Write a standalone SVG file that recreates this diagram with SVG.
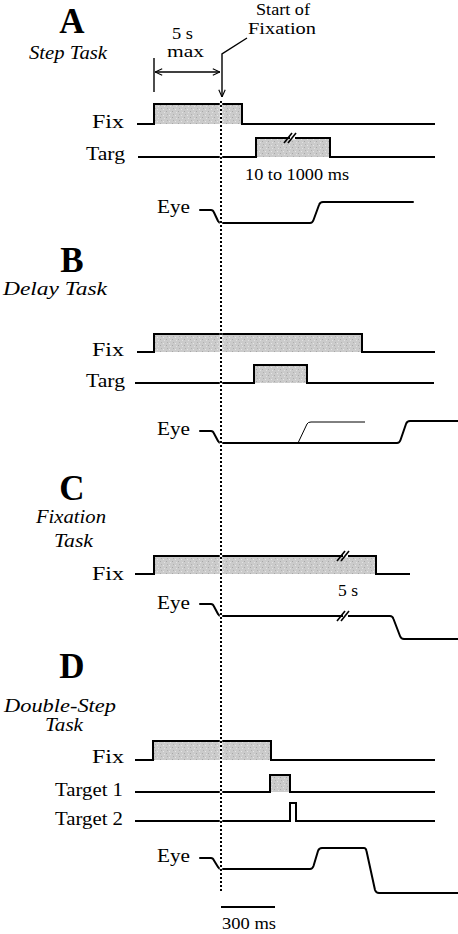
<svg xmlns="http://www.w3.org/2000/svg" width="458" height="934" viewBox="0 0 458 934">
  <style>
    text { font-family: "Liberation Serif", "Times New Roman", serif; fill: #000; }
    .big { font-size: 35px; font-weight: bold; text-anchor: middle; }
    .ttl { font-size: 19px; font-style: italic; }
    .lbl { font-size: 19px; }
    .note { font-size: 17px; }
    .sig { fill: none; stroke: #000; stroke-width: 2; stroke-linejoin: miter; }
    .eye { fill: none; stroke: #000; stroke-width: 2; stroke-linejoin: round; stroke-linecap: round; }
    .thin { fill: none; stroke: #000; stroke-width: 1; stroke-linejoin: round; }
    .shade { fill: url(#stipple); stroke: none; }
    .ann { fill: none; stroke: #000; stroke-width: 1.4; }
    .brk { stroke: #000; stroke-width: 1.6; }
    .gap { stroke: #fff; stroke-width: 3; }
  </style>
  <defs>
    <pattern id="stipple" width="6" height="6" patternUnits="userSpaceOnUse">
      <rect width="6" height="6" fill="#cbcbcb"/>
      <rect x="1" y="1" width="1" height="1" fill="#e6e6e6"/>
      <rect x="4" y="3" width="1" height="1" fill="#a8a8a8"/>
      <rect x="2" y="4" width="1" height="1" fill="#e2e2e2"/>
      <rect x="5" y="0" width="1" height="1" fill="#b0b0b0"/>
    </pattern>
    <marker id="vhead" viewBox="0 0 10 10" refX="10" refY="5" markerWidth="8" markerHeight="8" orient="auto-start-reverse" markerUnits="userSpaceOnUse">
      <path d="M1,1 L10,5 L1,9" fill="none" stroke="#000" stroke-width="1.4"/>
    </marker>
  </defs>

  <!-- Panel A: step task -->
  <g id="panel-a">
    <text class="big" x="72" y="33">A</text>
    <text class="ttl" x="29" y="59" textLength="78" lengthAdjust="spacingAndGlyphs">Step Task</text>
    <g id="a-fix">
      <text class="lbl" x="92" y="128" textLength="32" lengthAdjust="spacingAndGlyphs">Fix</text>
      <rect class="shade" x="154" y="104" width="88" height="20"/>
      <path class="sig" d="M137,124 H154 V104 H242 V124 H435"/>
    </g>
    <g id="a-targ">
      <text class="lbl" x="86" y="160" textLength="39" lengthAdjust="spacingAndGlyphs">Targ</text>
      <rect class="shade" x="256" y="138" width="74" height="19"/>
      <path class="sig" d="M138,157 H256 V138 H330 V157 H435"/>
      <line class="gap" x1="290" y1="138" x2="295" y2="138"/>
      <line class="brk" x1="284" y1="143" x2="292" y2="133"/>
      <line class="brk" x1="288" y1="143" x2="296" y2="133"/>
      <text class="note" x="245" y="180" textLength="104" lengthAdjust="spacingAndGlyphs">10 to 1000 ms</text>
    </g>
    <g id="a-eye">
      <text class="lbl" x="157" y="213" textLength="33" lengthAdjust="spacingAndGlyphs">Eye</text>
      <path class="eye" d="M200,210 H211 Q213,210 214,212.5 L218,221 Q219,223 222,223 H310 Q312.5,223 313.5,220 L319,205 Q320,202 323,202 H413"/>
    </g>
    <g id="a-notes">
      <text class="note" x="172" y="39" textLength="21" lengthAdjust="spacingAndGlyphs">5 s</text>
      <text class="note" x="167" y="57" textLength="37" lengthAdjust="spacingAndGlyphs">max</text>
      <text class="note" x="256" y="15" textLength="54" lengthAdjust="spacingAndGlyphs">Start of</text>
      <text class="note" x="248" y="34" textLength="68" lengthAdjust="spacingAndGlyphs">Fixation</text>
    </g>
  </g>

  <!-- Panel B: delay task -->
  <g id="panel-b">
    <text class="big" x="72" y="272">B</text>
    <text class="ttl" x="3" y="295" textLength="104" lengthAdjust="spacingAndGlyphs">Delay Task</text>
    <g id="b-fix">
      <text class="lbl" x="92" y="356" textLength="32" lengthAdjust="spacingAndGlyphs">Fix</text>
      <rect class="shade" x="154" y="334" width="208" height="18"/>
      <path class="sig" d="M137,352 H154 V334 H362 V352 H435"/>
    </g>
    <g id="b-targ">
      <text class="lbl" x="86" y="387" textLength="39" lengthAdjust="spacingAndGlyphs">Targ</text>
      <rect class="shade" x="254" y="365" width="53" height="18"/>
      <path class="sig" d="M135,383 H254 V365 H307 V383 H434"/>
    </g>
    <g id="b-eye">
      <text class="lbl" x="157" y="435" textLength="33" lengthAdjust="spacingAndGlyphs">Eye</text>
      <path class="thin" d="M298,443 L307,424 Q308,422 311,422 H365"/>
      <path class="eye" d="M200,431 H211 Q213,431 214,433.5 L218,441 Q219,443 222,443 H397 Q399.5,443 400.5,440 L406,424 Q407,421 410,421 H458"/>
    </g>
  </g>

  <!-- Panel C: fixation task -->
  <g id="panel-c">
    <text class="big" x="72" y="500">C</text>
    <text class="ttl" x="36" y="523" textLength="70" lengthAdjust="spacingAndGlyphs">Fixation</text>
    <text class="ttl" x="54" y="547" textLength="39" lengthAdjust="spacingAndGlyphs">Task</text>
    <g id="c-fix">
      <text class="lbl" x="92" y="580" textLength="32" lengthAdjust="spacingAndGlyphs">Fix</text>
      <rect class="shade" x="154" y="556" width="222" height="18"/>
      <path class="sig" d="M135,574 H154 V556 H376 V574 H410"/>
      <line class="gap" x1="343" y1="556" x2="348" y2="556"/>
      <line class="brk" x1="337" y1="561" x2="345" y2="551"/>
      <line class="brk" x1="341" y1="561" x2="349" y2="551"/>
      <text class="note" x="338" y="596" textLength="20" lengthAdjust="spacingAndGlyphs">5 s</text>
    </g>
    <g id="c-eye">
      <text class="lbl" x="157" y="609" textLength="33" lengthAdjust="spacingAndGlyphs">Eye</text>
      <path class="eye" d="M200,604 H211 Q213,604 214,606.5 L218,614 Q219,616 222,616 H390 Q392.5,616 393.5,619 L400,636 Q401,639 404,639 H458"/>
      <line class="gap" x1="343" y1="616" x2="348" y2="616"/>
      <line class="brk" x1="337" y1="621" x2="345" y2="611"/>
      <line class="brk" x1="341" y1="621" x2="349" y2="611"/>
    </g>
  </g>

  <!-- Panel D: double-step task -->
  <g id="panel-d">
    <text class="big" x="72" y="678">D</text>
    <text class="ttl" x="4" y="712" textLength="112" lengthAdjust="spacingAndGlyphs">Double-Step</text>
    <text class="ttl" x="45" y="731" textLength="38" lengthAdjust="spacingAndGlyphs">Task</text>
    <g id="d-fix">
      <text class="lbl" x="92" y="763" textLength="32" lengthAdjust="spacingAndGlyphs">Fix</text>
      <rect class="shade" x="153" y="741" width="118" height="19"/>
      <path class="sig" d="M135,760 H153 V741 H271 V760 H435"/>
    </g>
    <g id="d-target1">
      <text class="lbl" x="55" y="796" textLength="68" lengthAdjust="spacingAndGlyphs">Target 1</text>
      <rect class="shade" x="270" y="775" width="20" height="17"/>
      <path class="sig" d="M135,792 H270 V775 H290 V792 H435"/>
    </g>
    <g id="d-target2">
      <text class="lbl" x="55" y="825" textLength="68" lengthAdjust="spacingAndGlyphs">Target 2</text>
      <path class="sig" d="M135,821 H290 V803 H296 V821 H435"/>
    </g>
    <g id="d-eye">
      <text class="lbl" x="157" y="862" textLength="33" lengthAdjust="spacingAndGlyphs">Eye</text>
      <path class="eye" d="M200,858 H211 Q213,858 214,860.5 L218,867 Q219,869 222,869 H310 Q312.5,869 313.5,866 L318,851 Q319,848 322,848 H364 Q366,848 366.5,851 L375,890 Q376,893 379,893 H458"/>
    </g>
    <g id="d-scale">
      <line x1="221" y1="907" x2="275" y2="907" stroke="#000" stroke-width="2"/>
      <text class="note" x="222" y="929" textLength="54" lengthAdjust="spacingAndGlyphs">300 ms</text>
    </g>
  </g>

  <!-- Connectors: fixation-onset reference line and annotation arrows -->
  <g id="connectors">
    <line x1="221" y1="101" x2="221" y2="893" stroke="#fff" stroke-width="2.5"/>
    <line x1="221" y1="101" x2="221" y2="893" stroke="#000" stroke-width="2" stroke-dasharray="2 2"/>
    <line class="ann" x1="154" y1="58" x2="154" y2="92"/>
    <line class="ann" x1="155" y1="72" x2="220" y2="72" marker-start="url(#vhead)" marker-end="url(#vhead)"/>
    <path class="ann" d="M247,38 L222,54 V97" marker-end="url(#vhead)"/>
  </g>
</svg>
